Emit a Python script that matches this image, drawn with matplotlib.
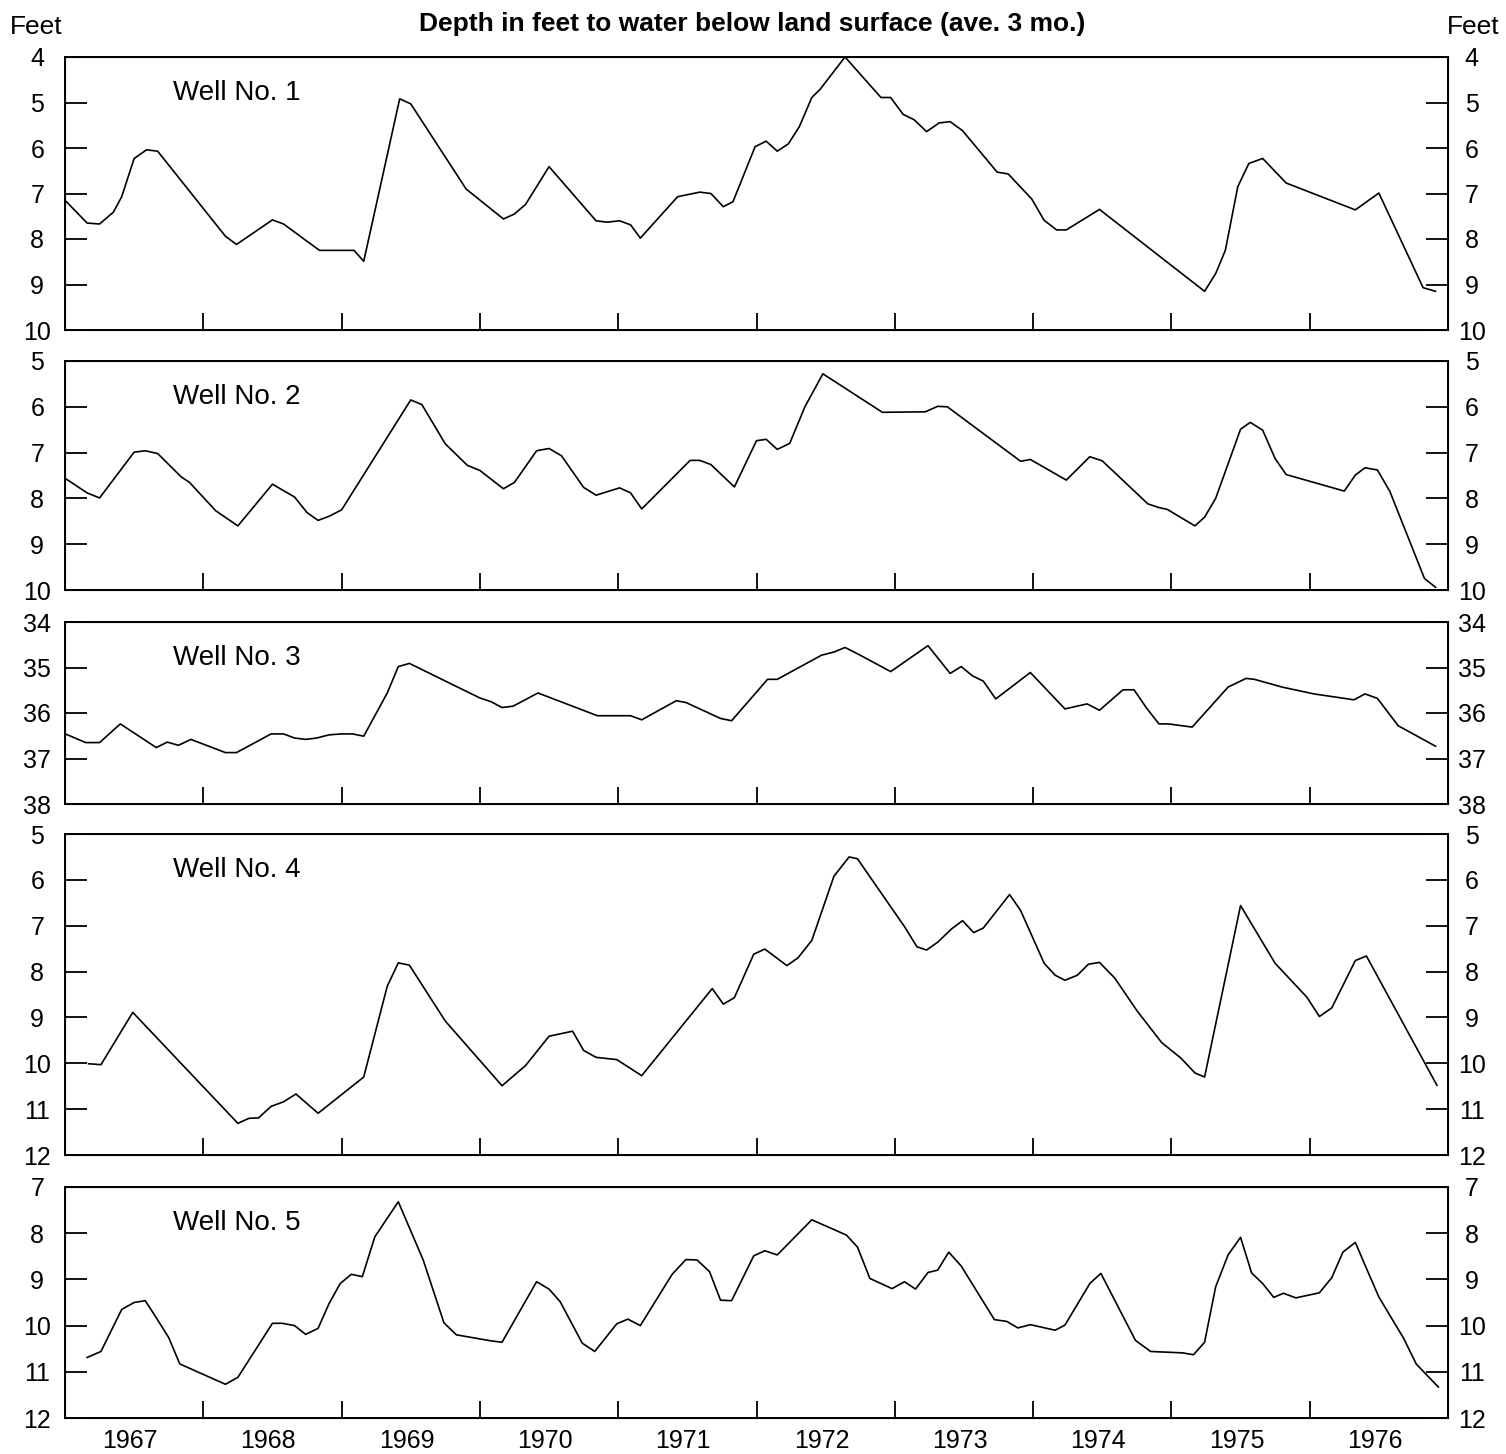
import matplotlib.pyplot as plt

plt.rcParams['font.family'] = ['Liberation Sans', 'DejaVu Sans']

year_labels = ['1967', '1968', '1969', '1970', '1971', '1972', '1973', '1974', '1975', '1976']
well_names = ['Well No. 1', 'Well No. 2', 'Well No. 3', 'Well No. 4', 'Well No. 5']
depth_ranges = [(4, 10), (5, 10), (34, 38), (5, 12), (7, 12)]

# time in decimal years, depth in feet below land surface
w1_t = [1967.01, 1967.16, 1967.25, 1967.35, 1967.41, 1967.50, 1967.59, 1967.67, 1968.16, 1968.24,
        1968.50, 1968.58, 1968.84, 1969.09, 1969.16, 1969.42, 1969.50, 1969.90, 1970.17, 1970.25,
        1970.33, 1970.50, 1970.84, 1970.92, 1971.01, 1971.09, 1971.16, 1971.43, 1971.59, 1971.67,
        1971.76, 1971.83, 1971.99, 1972.07, 1972.15, 1972.23, 1972.31, 1972.40, 1972.46, 1972.64,
        1972.90, 1972.97, 1973.06, 1973.14, 1973.23, 1973.32, 1973.40, 1973.49, 1973.74, 1973.82,
        1973.99, 1974.08, 1974.17, 1974.24, 1974.48, 1975.24, 1975.32, 1975.39, 1975.48, 1975.56,
        1975.66, 1975.83, 1976.33, 1976.50, 1976.82, 1976.91]
w1_d = [7.18, 7.65, 7.67, 7.41, 7.07, 6.23, 6.04, 6.07, 7.94, 8.12,
        7.58, 7.67, 8.25, 8.25, 8.49, 4.92, 5.03, 6.90, 7.56, 7.45,
        7.24, 6.41, 7.60, 7.63, 7.60, 7.69, 7.98, 7.07, 6.97, 7.00,
        7.29, 7.18, 5.97, 5.85, 6.07, 5.91, 5.53, 4.89, 4.71, 4.00,
        4.89, 4.89, 5.26, 5.38, 5.64, 5.45, 5.42, 5.62, 6.53, 6.57,
        7.12, 7.59, 7.80, 7.80, 7.35, 9.15, 8.76, 8.25, 6.85, 6.34,
        6.23, 6.77, 7.36, 6.99, 9.07, 9.15]

w2_t = [1967.01, 1967.16, 1967.25, 1967.50, 1967.58, 1967.67, 1967.84, 1967.90, 1968.09, 1968.25,
        1968.50, 1968.66, 1968.75, 1968.83, 1968.91, 1969.00, 1969.50, 1969.58, 1969.75, 1969.91,
        1970.00, 1970.17, 1970.25, 1970.41, 1970.50, 1970.59, 1970.75, 1970.84, 1971.01, 1971.09,
        1971.17, 1971.52, 1971.59, 1971.67, 1971.84, 1972.00, 1972.07, 1972.15, 1972.24, 1972.35,
        1972.48, 1972.91, 1973.22, 1973.31, 1973.38, 1973.91, 1973.98, 1974.24, 1974.41, 1974.50,
        1974.83, 1974.91, 1974.97, 1975.17, 1975.24, 1975.32, 1975.50, 1975.57, 1975.66, 1975.75,
        1975.83, 1976.25, 1976.33, 1976.40, 1976.49, 1976.58, 1976.83, 1976.91]
w2_d = [7.58, 7.88, 7.99, 6.99, 6.96, 7.02, 7.53, 7.65, 8.27, 8.60,
        7.69, 7.97, 8.31, 8.48, 8.39, 8.25, 5.85, 5.95, 6.81, 7.28,
        7.39, 7.79, 7.65, 6.96, 6.91, 7.07, 7.76, 7.93, 7.77, 7.88,
        8.23, 7.17, 7.17, 7.26, 7.75, 6.74, 6.71, 6.93, 6.80, 6.00,
        5.28, 6.12, 6.11, 5.99, 6.00, 7.19, 7.15, 7.60, 7.09, 7.18,
        8.12, 8.20, 8.24, 8.60, 8.41, 8.00, 6.49, 6.34, 6.51, 7.13,
        7.48, 7.84, 7.49, 7.33, 7.38, 7.85, 9.75, 9.94]

w3_t = [1967.01, 1967.15, 1967.25, 1967.40, 1967.66, 1967.74, 1967.82, 1967.91, 1968.16, 1968.24,
        1968.49, 1968.58, 1968.66, 1968.74, 1968.82, 1968.91, 1969.00, 1969.08, 1969.16, 1969.33,
        1969.41, 1969.49, 1970.00, 1970.08, 1970.16, 1970.24, 1970.42, 1970.85, 1971.09, 1971.17,
        1971.42, 1971.49, 1971.74, 1971.82, 1972.08, 1972.15, 1972.47, 1972.56, 1972.64, 1972.75,
        1972.97, 1973.24, 1973.40, 1973.48, 1973.56, 1973.64, 1973.73, 1973.98, 1974.23, 1974.39,
        1974.48, 1974.65, 1974.73, 1974.82, 1974.91, 1974.98, 1975.15, 1975.41, 1975.54, 1975.60,
        1975.80, 1976.03, 1976.32, 1976.40, 1976.49, 1976.64, 1976.91]
w3_d = [36.47, 36.65, 36.65, 36.24, 36.76, 36.64, 36.71, 36.58, 36.87, 36.87,
        36.46, 36.46, 36.55, 36.58, 36.55, 36.48, 36.46, 36.46, 36.51, 35.56,
        34.98, 34.91, 35.67, 35.75, 35.88, 35.85, 35.56, 36.06, 36.06, 36.15,
        35.73, 35.77, 36.12, 36.17, 35.26, 35.26, 34.73, 34.66, 34.56, 34.73,
        35.09, 34.52, 35.13, 34.98, 35.18, 35.30, 35.69, 35.11, 35.91, 35.80,
        35.94, 35.49, 35.49, 35.89, 36.24, 36.24, 36.31, 35.43, 35.24, 35.26,
        35.43, 35.58, 35.71, 35.58, 35.68, 36.28, 36.73]

w4_t = [1967.17, 1967.26, 1967.49, 1968.25, 1968.33, 1968.40, 1968.49, 1968.58, 1968.67, 1968.83,
        1969.16, 1969.33, 1969.41, 1969.49, 1969.75, 1970.16, 1970.33, 1970.50, 1970.67, 1970.75,
        1970.84, 1970.99, 1971.17, 1971.68, 1971.76, 1971.84, 1971.98, 1972.06, 1972.22, 1972.30,
        1972.40, 1972.56, 1972.67, 1972.73, 1973.07, 1973.16, 1973.23, 1973.31, 1973.41, 1973.49,
        1973.57, 1973.64, 1973.83, 1973.91, 1974.08, 1974.16, 1974.23, 1974.32, 1974.40, 1974.48,
        1974.59, 1974.75, 1974.93, 1975.07, 1975.17, 1975.24, 1975.50, 1975.75, 1975.98, 1976.07,
        1976.16, 1976.33, 1976.41, 1976.92]
w4_d = [10.01, 10.03, 8.89, 11.31, 11.20, 11.19, 10.94, 10.84, 10.67, 11.09,
        10.30, 8.32, 7.81, 7.86, 9.08, 10.49, 10.05, 9.41, 9.30, 9.72,
        9.87, 9.92, 10.27, 8.37, 8.71, 8.57, 7.62, 7.51, 7.87, 7.70,
        7.32, 5.92, 5.50, 5.54, 7.02, 7.46, 7.53, 7.36, 7.07, 6.89,
        7.15, 7.05, 6.32, 6.67, 7.82, 8.08, 8.19, 8.08, 7.84, 7.80,
        8.14, 8.85, 9.55, 9.89, 10.21, 10.30, 6.56, 7.82, 8.56, 8.98,
        8.79, 7.76, 7.66, 10.48]

w5_t = [1967.16, 1967.26, 1967.41, 1967.50, 1967.58, 1967.66, 1967.75, 1967.83, 1968.16, 1968.25,
        1968.50, 1968.57, 1968.66, 1968.74, 1968.83, 1968.91, 1968.99, 1969.07, 1969.15, 1969.24,
        1969.41, 1969.59, 1969.74, 1969.83, 1970.08, 1970.16, 1970.41, 1970.50, 1970.58, 1970.74,
        1970.83, 1970.99, 1971.07, 1971.16, 1971.39, 1971.49, 1971.57, 1971.66, 1971.74, 1971.82,
        1971.98, 1972.06, 1972.15, 1972.40, 1972.65, 1972.73, 1972.82, 1972.90, 1972.98, 1973.07,
        1973.15, 1973.24, 1973.31, 1973.39, 1973.48, 1973.72, 1973.81, 1973.89, 1973.98, 1974.16,
        1974.23, 1974.41, 1974.49, 1974.74, 1974.85, 1975.08, 1975.16, 1975.24, 1975.32, 1975.41,
        1975.50, 1975.58, 1975.66, 1975.74, 1975.81, 1975.90, 1976.07, 1976.16, 1976.24, 1976.33,
        1976.41, 1976.50, 1976.68, 1976.77, 1976.93]
w5_d = [10.69, 10.56, 9.65, 9.50, 9.46, 9.83, 10.26, 10.83, 11.27, 11.12,
        9.95, 9.95, 10.00, 10.19, 10.06, 9.52, 9.09, 8.89, 8.94, 8.08,
        7.32, 8.58, 9.94, 10.20, 10.33, 10.36, 9.05, 9.21, 9.48, 10.38,
        10.56, 9.96, 9.86, 10.00, 8.89, 8.57, 8.58, 8.83, 9.45, 9.46,
        8.49, 8.38, 8.47, 7.71, 8.04, 8.30, 8.98, 9.09, 9.20, 9.05,
        9.21, 8.85, 8.80, 8.41, 8.71, 9.87, 9.91, 10.05, 9.98, 10.10,
        9.99, 9.09, 8.87, 10.32, 10.56, 10.59, 10.63, 10.36, 9.16, 8.47,
        8.09, 8.86, 9.09, 9.39, 9.30, 9.40, 9.29, 8.96, 8.41, 8.20,
        8.76, 9.38, 10.28, 10.83, 11.33]

series = [(w1_t, w1_d), (w2_t, w2_d), (w3_t, w3_d), (w4_t, w4_d), (w5_t, w5_d)]

W, H = 1506, 1454
fig = plt.figure(figsize=(W / 100, H / 100), dpi=100)

# panel top/bottom in pixels
panel_px = [(57, 330), (361, 590), (622, 804), (834, 1155), (1187, 1418)]
x0, x1 = 65, 1448

for i, ((t, d), (lo, hi), name, (top, bot)) in enumerate(zip(series, depth_ranges, well_names, panel_px)):
    ax = fig.add_axes([x0 / W, 1 - bot / H, (x1 - x0) / W, (bot - top) / H])
    ax.plot(t, d, color='black', lw=1.2)
    ax.set_xlim(1967, 1977)
    ax.set_ylim(hi, lo)
    ax.set_yticks(range(lo, hi + 1))
    ax.tick_params(axis='y', direction='in', length=16, width=1.3, labelsize=18, pad=20)
    for lbl in ax.get_yticklabels():
        lbl.set_horizontalalignment('center')
    for s in ax.spines.values():
        s.set_linewidth(1.4)

    ax2 = ax.twinx()
    ax2.set_ylim(hi, lo)
    ax2.set_yticks(range(lo, hi + 1))
    ax2.tick_params(axis='y', direction='in', length=16, width=1.3, labelsize=18, pad=17)
    for lbl in ax2.get_yticklabels():
        lbl.set_horizontalalignment('center')

    ax.set_xticks(range(1968, 1977))
    ax.tick_params(axis='x', which='major', direction='in', length=12, width=1.3, labelbottom=False)
    if i == len(series) - 1:
        ax.set_xticks([int(y) + 0.47 for y in year_labels], minor=True)
        ax.set_xticklabels(year_labels, minor=True)
        ax.tick_params(axis='x', which='minor', length=0, labelsize=18, pad=8)

    ax.annotate(name, xy=(0, 1), xycoords='axes fraction', xytext=(108, -36),
                textcoords='offset pixels', fontsize=20, va='center')

fig.text(752 / W, 1 - 24 / H, 'Depth in feet to water below land surface (ave. 3 mo.)',
         ha='center', va='center', fontsize=19, fontweight='bold')
fig.text(36 / W, 1 - 27 / H, 'Feet', ha='center', va='center', fontsize=19)
fig.text(1473 / W, 1 - 27 / H, 'Feet', ha='center', va='center', fontsize=19)

fig.savefig('out.png', dpi=100)
